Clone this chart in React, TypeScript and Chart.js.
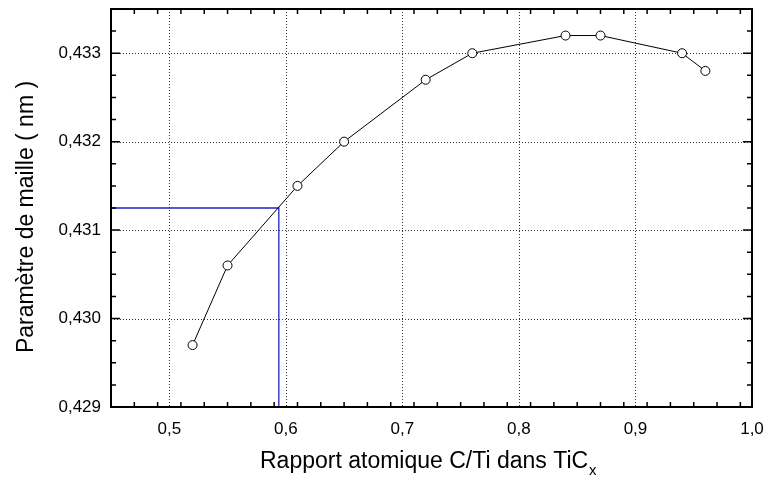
import React, { useEffect, useRef } from "react";
import { Chart, registerables } from "chart.js";

Chart.register(...registerables);

// ---- data ----
const X_VALUES = [0.52, 0.55, 0.61, 0.65, 0.72, 0.76, 0.84, 0.87, 0.94, 0.96];
const Y_VALUES = [0.4297, 0.4306, 0.4315, 0.432, 0.4327, 0.433, 0.4332, 0.4332, 0.433, 0.4328];
const GUIDE_X = [0.45, 0.594, 0.594];
const GUIDE_Y = [0.43125, 0.43125, 0.429];
const X_TICKS = [0.5, 0.6, 0.7, 0.8, 0.9, 1.0];
const Y_TICKS = [0.429, 0.43, 0.431, 0.432, 0.433];
const X_MIN = 0.45;
const X_MAX = 1.0;
const Y_MIN = 0.429;
const Y_MAX = 0.4335;
const X_MINOR_STEP = 0.02;
const Y_MINOR_STEP = 0.00025;
const X_TITLE = "Rapport atomique C/Ti dans TiC";
const X_TITLE_SUB = "x";
const Y_TITLE = "Paramètre de maille ( nm )";

const FONT = "'Liberation Sans', Arial, sans-serif";
const BLUE = "#2222c4";

const framePlugin = {
  id: "originFrame",
  beforeDatasetsDraw(chart: any) {
    const { ctx, chartArea: a, scales } = chart;
    const xs = scales.x;
    const ys = scales.y;
    ctx.save();
    ctx.strokeStyle = "#333";
    ctx.lineWidth = 1;
    ctx.setLineDash([1, 2]);
    X_TICKS.forEach((v) => {
      if (v <= X_MIN || v >= X_MAX) return;
      const px = Math.round(xs.getPixelForValue(v)) + 0.5;
      ctx.beginPath();
      ctx.moveTo(px, a.top);
      ctx.lineTo(px, a.bottom);
      ctx.stroke();
    });
    Y_TICKS.forEach((v) => {
      if (v <= Y_MIN || v >= Y_MAX) return;
      const py = Math.round(ys.getPixelForValue(v)) + 0.5;
      ctx.beginPath();
      ctx.moveTo(a.left, py);
      ctx.lineTo(a.right, py);
      ctx.stroke();
    });
    ctx.restore();
  },
  afterDatasetsDraw(chart: any) {
    const { ctx, chartArea: a, scales } = chart;
    const xs = scales.x;
    const ys = scales.y;
    ctx.save();
    ctx.strokeStyle = "#000";
    ctx.setLineDash([]);
    // ticks (inward, all four sides)
    ctx.lineWidth = 1.5;
    const nx = Math.round((X_MAX - X_MIN) / X_MINOR_STEP);
    for (let i = 0; i <= nx; i++) {
      const v = X_MIN + i * X_MINOR_STEP;
      if (v < X_MIN - 1e-9 || v > X_MAX + 1e-9) continue;
      const major = X_TICKS.some((t) => Math.abs(t - v) < 1e-6);
      const len = major ? 9 : 5;
      const px = xs.getPixelForValue(v);
      ctx.beginPath();
      ctx.moveTo(px, a.bottom);
      ctx.lineTo(px, a.bottom - len);
      ctx.moveTo(px, a.top);
      ctx.lineTo(px, a.top + len);
      ctx.stroke();
    }
    const ny = Math.round((Y_MAX - Y_MIN) / Y_MINOR_STEP);
    for (let i = 0; i <= ny; i++) {
      const v = Y_MIN + i * Y_MINOR_STEP;
      const major = Y_TICKS.some((t) => Math.abs(t - v) < 1e-7);
      const len = major ? 9 : 5;
      const py = ys.getPixelForValue(v);
      ctx.beginPath();
      ctx.moveTo(a.left, py);
      ctx.lineTo(a.left + len, py);
      ctx.moveTo(a.right, py);
      ctx.lineTo(a.right - len, py);
      ctx.stroke();
    }
    // frame
    ctx.lineWidth = 2;
    ctx.strokeRect(a.left, a.top, a.right - a.left, a.bottom - a.top);

    // axis titles
    ctx.fillStyle = "#000";
    ctx.font = `23px ${FONT}`;
    ctx.textBaseline = "alphabetic";
    ctx.textAlign = "left";
    const xStart = 260;
    ctx.fillText(X_TITLE, xStart, 468);
    const w = ctx.measureText(X_TITLE).width;
    ctx.font = `15px ${FONT}`;
    ctx.fillText(X_TITLE_SUB, xStart + w + 1, 475);

    ctx.font = `23px ${FONT}`;
    ctx.translate(33, 217);
    ctx.rotate(-Math.PI / 2);
    ctx.textAlign = "center";
    ctx.fillText(Y_TITLE, 0, 0);
    ctx.restore();
  },
};

export default function App() {
  const ref = useRef<HTMLCanvasElement | null>(null);

  useEffect(() => {
    if (!ref.current) return;
    const chart = new Chart(ref.current, {
      type: "scatter",
      data: {
        datasets: [
          {
            data: X_VALUES.map((x, i) => ({ x, y: Y_VALUES[i] })),
            showLine: true,
            borderColor: "#000",
            borderWidth: 1,
            pointRadius: 4.5,
            pointHoverRadius: 4.5,
            pointBackgroundColor: "#fff",
            pointBorderColor: "#000",
            pointBorderWidth: 1,
            order: 1,
          },
          {
            data: GUIDE_X.map((x, i) => ({ x, y: GUIDE_Y[i] })),
            showLine: true,
            borderColor: BLUE,
            borderWidth: 1.3,
            pointRadius: 0,
            order: 2,
          },
        ],
      },
      options: {
        animation: false,
        responsive: false,
        events: [],
        layout: { padding: { top: 9, right: 15, left: 0, bottom: 0 } },
        plugins: {
          legend: { display: false },
          tooltip: { enabled: false },
        },
        scales: {
          x: {
            type: "linear",
            min: X_MIN,
            max: X_MAX,
            grid: { display: false, drawTicks: false },
            border: { display: false },
            afterBuildTicks: (s: any) => {
              s.ticks = X_TICKS.map((value) => ({ value }));
            },
            afterFit: (s: any) => {
              s.height = 70;
              s.paddingLeft = 0;
              s.paddingRight = 0;
            },
            ticks: {
              color: "#000",
              padding: 12,
              maxRotation: 0,
              font: { family: FONT, size: 17 },
              callback: (v: any) => Number(v).toFixed(1).replace(".", ","),
            },
          },
          y: {
            type: "linear",
            min: Y_MIN,
            max: Y_MAX,
            grid: { display: false, drawTicks: false },
            border: { display: false },
            afterBuildTicks: (s: any) => {
              s.ticks = Y_TICKS.map((value) => ({ value }));
            },
            afterFit: (s: any) => {
              s.width = 111;
              s.paddingTop = 0;
              s.paddingBottom = 0;
            },
            ticks: {
              color: "#000",
              padding: 10,
              font: { family: FONT, size: 17 },
              callback: (v: any) => Number(v).toFixed(3).replace(".", ","),
            },
          },
        },
      },
      plugins: [framePlugin],
    });
    return () => chart.destroy();
  }, []);

  return (
    <div style={{ position: "absolute", left: 0, top: 0, width: 767, height: 477, background: "#fff" }}>
      <canvas ref={ref} width={767} height={477} style={{ display: "block" }} />
    </div>
  );
}
